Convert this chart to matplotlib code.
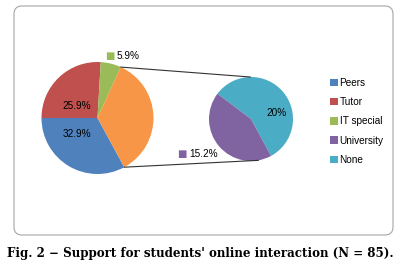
import matplotlib
matplotlib.use("Agg")
import matplotlib.pyplot as plt
import numpy as np
from matplotlib.patches import FancyBboxPatch, Patch

# data (percent of N = 85)
main_labels = ["Peers", "Tutor", "IT special"]
main_values = [32.9, 25.9, 5.9]
sub_labels = ["None", "University"]
sub_values = [20.0, 15.2]
legend_order = ["Peers", "Tutor", "IT special", "University", "None"]

colors = {"Peers": "#4F81BD", "Tutor": "#C0504D", "IT special": "#9BBB59",
          "University": "#8064A2", "None": "#4BACC6", "Other": "#F79646"}

plt.rcParams["font.family"] = ["Liberation Sans", "DejaVu Sans"]

W, H = 398, 271
fig = plt.figure(figsize=(W / 100, H / 100), dpi=100)
ax = fig.add_axes([0, 0, 1, 1])

# main pie: Peers starts at 9 o'clock, going clockwise
other = sum(sub_values)
vals = main_values + [other]
cols = [colors[l] for l in main_labels] + [colors["Other"]]
start = 180 + 360 * main_values[0] / sum(vals)
c1, r1 = (97.5, 153), 56
w1, _ = ax.pie(vals, colors=cols, startangle=start, counterclock=False,
               center=c1, radius=r1, wedgeprops=dict(linewidth=0))

# second pie
c2, r2 = (251, 152), 42
w2, _ = ax.pie(sub_values, colors=[colors[l] for l in sub_labels], startangle=143,
               counterclock=False, center=c2, radius=r2, wedgeprops=dict(linewidth=0))

# connector lines
ow = w1[-1]
def pt(c, r, a):
    return c[0] + r * np.cos(np.radians(a)), c[1] + r * np.sin(np.radians(a))
p_top = pt(c1, r1, ow.theta2)
p_bot = pt(c1, r1, ow.theta1)
q_top = pt(c2, r2, 91)
q_bot = pt(c2, r2, -80)
ax.plot([p_top[0], q_top[0]], [p_top[1], q_top[1]], color="#333333", lw=0.8)
ax.plot([p_bot[0], q_bot[0]], [p_bot[1], q_bot[1]], color="#333333", lw=0.8)

fs = 7.2
ax.text(77, 271 - 106, f"{main_values[1]}%", fontsize=fs, ha="center", va="center")
ax.text(77, 271 - 134, f"{main_values[0]}%", fontsize=fs, ha="center", va="center")
ax.text(277, 271 - 113, f"{sub_values[0]:g}%", fontsize=fs, ha="center", va="center")
ax.text(110, 271 - 56, "\u25a0", color=colors["IT special"], fontsize=fs,
        ha="center", va="center", family="DejaVu Sans")
ax.text(117, 271 - 56, f"{main_values[2]}%", fontsize=fs, ha="left", va="center")
ax.text(182, 271 - 154, "\u25a0", color=colors["University"], fontsize=fs,
        ha="center", va="center", family="DejaVu Sans")
ax.text(189, 271 - 154, f"{sub_values[1]}%", fontsize=fs, ha="left", va="center")

handles = [Patch(facecolor=colors[l], edgecolor="none") for l in legend_order]
ax.legend(handles, legend_order, loc="upper left", bbox_to_anchor=(330 / W, 1 - 78 / H),
          frameon=False, fontsize=fs, handlelength=0.75, handleheight=0.75,
          handletextpad=0.2, labelspacing=0.92, borderpad=0, borderaxespad=0)

# frame and caption
ax.add_patch(FancyBboxPatch((14, 271 - 235), 379, 229,
                            boxstyle="round,pad=0,rounding_size=8",
                            facecolor="none", edgecolor="#a6a6a6", lw=0.8))
ax.text(200, 271 - 253, "Fig. 2 \u2212 Support for students' online interaction (N = 85).",
        fontsize=8.6, fontweight="bold", family="DejaVu Serif", ha="center", va="center")

ax.set_xlim(0, W)
ax.set_ylim(0, H)
ax.set_aspect("auto")
ax.axis("off")
fig.savefig("out.png", dpi=100)
